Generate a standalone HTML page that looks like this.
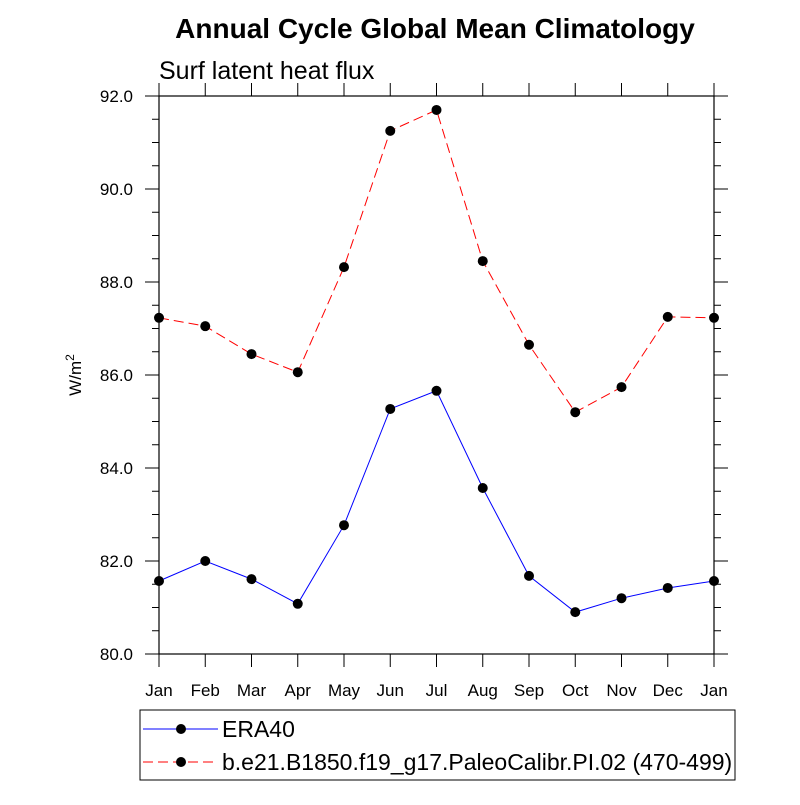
<!DOCTYPE html>
<html><head><meta charset="utf-8"><style>body{margin:0;background:#fff}svg{font-family:"Liberation Sans",sans-serif}</style></head>
<body>
<svg id="c" width="800" height="800"></svg>
<script>
const months=["Jan","Feb","Mar","Apr","May","Jun","Jul","Aug","Sep","Oct","Nov","Dec","Jan"];
const era40=[81.57,82.0,81.61,81.08,82.77,85.27,85.66,83.57,81.68,80.90,81.20,81.42,81.57];
const model=[87.23,87.05,86.45,86.06,88.32,91.25,91.70,88.45,86.65,85.20,85.74,87.25,87.23];
const yTicks=[80,82,84,86,88,90,92];
const NS="http://www.w3.org/2000/svg",svg=document.getElementById('c');
const L=159,R=714,T=96,B=654;
const x=i=>L+i*(R-L)/12, y=v=>B-(v-80)*(B-T)/12;
function el(t,a,p){const e=document.createElementNS(NS,t);for(const k in a)e.setAttribute(k,a[k]);(p||svg).appendChild(e);return e;}
const frame=el('rect',{x:L,y:T,width:R-L,height:B-T,fill:'none',stroke:'#000','stroke-width':1.2});


for(let v=80;v<=92.001;v+=0.5){const maj=Math.abs(v/2-Math.round(v/2))<1e-6;const len=maj?14:7;
el('line',{x1:L-len,x2:L,y1:y(v),y2:y(v),stroke:'#000'});el('line',{x1:R,x2:R+len,y1:y(v),y2:y(v),stroke:'#000'});}
yTicks.forEach(v=>{const t=el('text',{x:L-26,y:y(v)+6,'text-anchor':'end','font-size':17});t.textContent=v.toFixed(1);

});
months.forEach((m,i)=>{el('line',{x1:x(i),x2:x(i),y1:B,y2:B+13,stroke:'#000'});el('line',{x1:x(i),x2:x(i),y1:T,y2:T-13,stroke:'#000'});
const t=el('text',{x:x(i),y:B+42,'text-anchor':'middle','font-size':17});t.textContent=m;

});
function series(d,col,dash,name){const p=el('polyline',{points:d.map((v,i)=>x(i)+','+y(v)).join(' '),fill:'none',stroke:col,'stroke-width':1,'stroke-dasharray':dash});


d.forEach((v,i)=>{const c=el('circle',{cx:x(i),cy:y(v),r:5,fill:'#000'});

});}
series(era40,'#0000ff','none','era40');
series(model,'#ff0000','10 5','model');
let t=el('text',{x:435,y:38,'text-anchor':'middle','font-size':28,'font-weight':'bold'});t.textContent='Annual Cycle Global Mean Climatology';


t=el('text',{x:159,y:79,'font-size':25});t.textContent='Surf latent heat flux';


t=el('text',{x:0,y:0,'font-size':17,transform:'translate(81,375) rotate(-90)','text-anchor':'middle'});t.innerHTML='W/m<tspan dy="-7" font-size="12">2</tspan>';


const lg=el('rect',{x:140,y:710,width:595,height:70,fill:'none',stroke:'#000','stroke-width':1});


[[729,'#0000ff','none','ERA40'],[762,'#ff0000','10 5','b.e21.B1850.f19_g17.PaleoCalibr.PI.02 (470-499)']].forEach(([yy,c,d,n])=>{
el('line',{x1:143,x2:218,y1:yy,y2:yy,stroke:c,'stroke-dasharray':d});el('circle',{cx:181,cy:yy,r:5,fill:'#000'});
const tx=el('text',{x:222,y:yy+8,'font-size':23});tx.textContent=n;

});
</script>
</body></html>
